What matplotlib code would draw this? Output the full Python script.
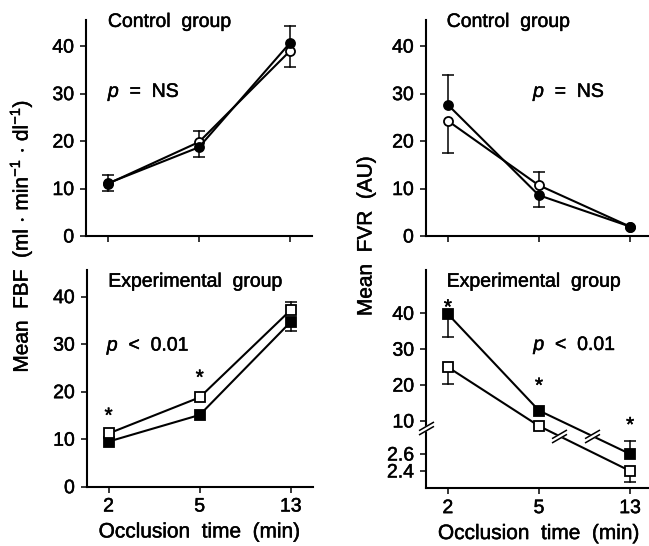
import numpy as np
import matplotlib
matplotlib.use('Agg')
import matplotlib.pyplot as plt
from matplotlib.path import Path
import matplotlib.patheffects as pe

plt.rcParams['font.family'] = ['Liberation Sans', 'DejaVu Sans']
plt.rcParams['mathtext.fontset'] = 'custom'
plt.rcParams['mathtext.rm'] = 'Liberation Sans'
plt.rcParams['mathtext.it'] = 'Liberation Sans:italic'

# ---------------- data ----------------
times = ['2', '5', '13']

# Control group, FBF
fbf_ctrl_filled = [11.1, 18.7, 40.7]
fbf_ctrl_filled_lo = [1.6, 2.0, 0.0]
fbf_ctrl_filled_hi = [1.7, 0.0, 3.6]
fbf_ctrl_open = [11.0, 19.8, 39.0]
fbf_ctrl_open_lo = [0.0, 0.0, 3.5]
fbf_ctrl_open_hi = [0.0, 2.4, 0.0]

# Control group, FVR
fvr_ctrl_filled = [27.7, 8.6, 2.0]
fvr_ctrl_filled_lo = [0.0, 2.4, 0.0]
fvr_ctrl_filled_hi = [6.3, 0.0, 0.0]
fvr_ctrl_open = [24.3, 10.7, 2.0]
fvr_ctrl_open_lo = [6.9, 0.0, 0.0]
fvr_ctrl_open_hi = [0.0, 2.7, 0.0]

# Experimental group, FBF
fbf_exp_filled = [9.5, 15.1, 34.7]
fbf_exp_filled_lo = [0.0, 0.0, 1.9]
fbf_exp_filled_hi = [0.0, 0.0, 0.0]
fbf_exp_open = [11.2, 18.8, 37.2]
fbf_exp_open_lo = [0.0, 0.0, 0.0]
fbf_exp_open_hi = [0.0, 0.0, 1.7]

# Experimental group, FVR
fvr_exp_filled = [39.8, 12.9, 2.6]
fvr_exp_filled_lo = [6.3, 0.0, 0.0]
fvr_exp_filled_hi = [0.0, 0.0, 0.15]
fvr_exp_open = [25.0, 8.6, 2.4]
fvr_exp_open_lo = [4.8, 0.0, 0.13]
fvr_exp_open_hi = [0.0, 0.0, 0.0]

yticks_main = [0, 10, 20, 30, 40]
yticks_broken = [2.4, 2.6, 10, 20, 30, 40]
yticklabels_broken = ['2.4', '2.6', '10', '20', '30', '40']

# ---------------- style ----------------
W, H, DPI = 649, 546, 100
FS_TICK = 14
FS_TEXT = 14
FS_LABEL = 15
LW = 1.5
MS = 6.5
CAP = 8.5
HEAVY = [pe.withStroke(linewidth=0.35, foreground='black')]

fig = plt.figure(figsize=(W / DPI, H / DPI), dpi=DPI)

def px_ax(left, bottom, width, height):
    return fig.add_axes([left / W, 1 - bottom / H, width / W, height / H])

ax_tl = px_ax(86, 236, 226, 216)
ax_tr = px_ax(425.7, 236, 226, 216)
ax_bl = px_ax(86.7, 486.7, 226, 216.7)
ax_br = px_ax(426, 488.3, 226, 218.3)

x = np.arange(len(times))

# broken-axis scale for the experimental FVR panel
UP_PX, LO_PX = 3.59, 85.0
T10, T26 = 67.3, 34.3
TB = 52.3
VLB = 2.6 + (TB - T26) / LO_PX
VUB = 10 - (T10 - (TB + 0.01)) / UP_PX

def fwd(v):
    v = np.asarray(v, float)
    lo = T26 + (v - 2.6) * LO_PX
    up = T10 + (v - 10) * UP_PX
    mid = TB + (v - VLB) / (VUB - VLB) * 0.01
    return np.where(v <= VLB, lo, np.where(v >= VUB, up, mid))

def inv(t):
    t = np.asarray(t, float)
    lo = 2.6 + (t - T26) / LO_PX
    up = 10 + (t - T10) / UP_PX
    mid = VLB + (t - TB) / 0.01 * (VUB - VLB)
    return np.where(t <= TB, lo, np.where(t >= TB + 0.01, up, mid))


def style_axis(ax, show_xlabels):
    for s in ['top', 'right']:
        ax.spines[s].set_visible(False)
    for s in ['left', 'bottom']:
        ax.spines[s].set_linewidth(LW)
    ax.set_xlim(-0.24, 2.24)
    ax.set_xticks(x)
    ax.tick_params(axis='both', direction='out', length=4.5, width=1.1,
                   labelsize=FS_TICK, pad=4)
    if show_xlabels:
        ax.set_xticklabels(times)
        ax.set_xlabel('Occlusion  time  (min)', fontsize=FS_LABEL, labelpad=5,
                      path_effects=HEAVY)
    else:
        ax.set_xticklabels([])


def heavy_ticks(ax):
    for lab in ax.get_xticklabels() + ax.get_yticklabels():
        lab.set_path_effects(HEAVY)


def errs(ax, y, lo, hi):
    for xi, yi, l, h in zip(x, y, lo, hi):
        if l > 0:
            ax.plot([xi, xi], [yi, yi - l], color='black', lw=1.1, zorder=2)
            ax.plot([xi], [yi - l], marker='_', ms=CAP, mew=1.1, color='black', zorder=2)
        if h > 0:
            ax.plot([xi, xi], [yi, yi + h], color='black', lw=1.1, zorder=2)
            ax.plot([xi], [yi + h], marker='_', ms=CAP, mew=1.1, color='black', zorder=2)


def series(ax, y, lo, hi, marker, filled, z=0):
    errs(ax, y, lo, hi)
    ax.plot(x, y, color='black', lw=1.5, zorder=3 + z)
    ax.plot(x, y, ls='none', marker=marker, ms=MS, mew=1.3, mec='black',
            mfc='black' if filled else 'white', zorder=4 + z)


def label(ax, xf, yf, s, **kw):
    ax.text(xf, yf, s, transform=ax.transAxes, fontsize=FS_TEXT, ha='left',
            va='baseline', path_effects=HEAVY, **kw)


def stars(ax, xs, ys):
    bt = ax.get_xaxis_transform()
    for xi, yb in zip(xs, ys):
        ax.text(xi, yb, '*', transform=bt, fontsize=15, ha='center', va='baseline',
                path_effects=HEAVY)


# break marker ("//" with white gap)
_c, _s, _g = 8.66, 5.0, 2.5
slash_path = Path([(-_c, -_s - _g), (_c, _s - _g), (-_c, -_s + _g), (_c, _s + _g)],
                  [Path.MOVETO, Path.LINETO, Path.MOVETO, Path.LINETO])
gap_path = Path([(-_c, -_s - _g), (_c, _s - _g), (_c, _s + _g), (-_c, -_s + _g), (-_c, -_s - _g)],
                [Path.MOVETO, Path.LINETO, Path.LINETO, Path.LINETO, Path.CLOSEPOLY])
BREAK_MS = 2 * (_s + _g) * 72 / DPI

def break_mark(ax, xb, yb, **kw):
    ax.plot([xb], [yb], ls='none', marker=gap_path, ms=BREAK_MS, mfc='white', mec='white',
            mew=0.8, zorder=8, **kw)
    ax.plot([xb], [yb], ls='none', marker=slash_path, ms=BREAK_MS, mfc='none', mec='black',
            mew=1.1, zorder=9, **kw)


# ---------------- top-left: control FBF ----------------
ax = ax_tl
style_axis(ax, False)
ax.set_ylim(0, 45.5)
ax.set_yticks(yticks_main)
series(ax, fbf_ctrl_open, fbf_ctrl_open_lo, fbf_ctrl_open_hi, 'o', False, z=0)
series(ax, fbf_ctrl_filled, fbf_ctrl_filled_lo, fbf_ctrl_filled_hi, 'o', True, z=2)
label(ax, 0.097, 0.968, 'Control  group')
label(ax, 0.097, 0.644, r'$p$  =  NS')
heavy_ticks(ax)

# ---------------- top-right: control FVR ----------------
ax = ax_tr
style_axis(ax, False)
ax.set_ylim(0, 45.5)
ax.set_yticks(yticks_main)
series(ax, fvr_ctrl_open, fvr_ctrl_open_lo, fvr_ctrl_open_hi, 'o', False, z=0)
series(ax, fvr_ctrl_filled, fvr_ctrl_filled_lo, fvr_ctrl_filled_hi, 'o', True, z=2)
label(ax, 0.093, 0.968, 'Control  group')
label(ax, 0.475, 0.644, r'$p$  =  NS')
heavy_ticks(ax)

# ---------------- bottom-left: experimental FBF ----------------
ax = ax_bl
style_axis(ax, True)
ax.set_ylim(0, 45.6)
ax.set_yticks(yticks_main)
series(ax, fbf_exp_filled, fbf_exp_filled_lo, fbf_exp_filled_hi, 's', True)
series(ax, fbf_exp_open, fbf_exp_open_lo, fbf_exp_open_hi, 's', False)
label(ax, 0.0955, 0.923, 'Experimental  group')
label(ax, 0.089, 0.628, r'$p$  <  0.01')
stars(ax, [0, 1], [0.2986, 0.474])
heavy_ticks(ax)

# ---------------- bottom-right: experimental FVR (broken axis) ----------------
ax = ax_br
style_axis(ax, True)
ax.set_yscale('function', functions=(fwd, inv))
ax.set_ylim(float(inv(0.0)), float(inv(218.3)))
ax.set_yticks(yticks_broken)
ax.set_yticklabels(yticklabels_broken)
ax.yaxis.set_minor_locator(matplotlib.ticker.NullLocator())
series(ax, fvr_exp_filled, fvr_exp_filled_lo, fvr_exp_filled_hi, 's', True)
series(ax, fvr_exp_open, fvr_exp_open_lo, fvr_exp_open_hi, 's', False)
label(ax, 0.0916, 0.9235, 'Experimental  group')
label(ax, 0.475, 0.6335, r'$p$  <  0.01')
stars(ax, [0, 1, 2], [0.80, 0.441, 0.261])
# break marks on the lines where they cross the scale break
for yv in (fvr_exp_filled, fvr_exp_open):
    t0, t1 = float(fwd(yv[1])), float(fwd(yv[2]))
    frac = (t0 - TB) / (t0 - t1)
    break_mark(ax, x[1] + frac * (x[2] - x[1]), VLB)
# break mark on the y axis
break_mark(ax, ax.get_xlim()[0], float(inv(60.0)), clip_on=False)
heavy_ticks(ax)

# ---------------- shared y labels ----------------
fig.text(21 / W, 1 - 236 / H,
         'Mean  FBF  (ml$\\,\\cdot\\,$min$^{-1}$$\\,\\cdot\\,$dl$^{-1}$)',
         rotation=90, ha='center', va='center', fontsize=FS_LABEL, path_effects=HEAVY)
fig.text(366 / W, 1 - 236 / H, 'Mean  FVR  (AU)',
         rotation=90, ha='center', va='center', fontsize=FS_LABEL, path_effects=HEAVY)

fig.savefig('out.png', dpi=DPI)
